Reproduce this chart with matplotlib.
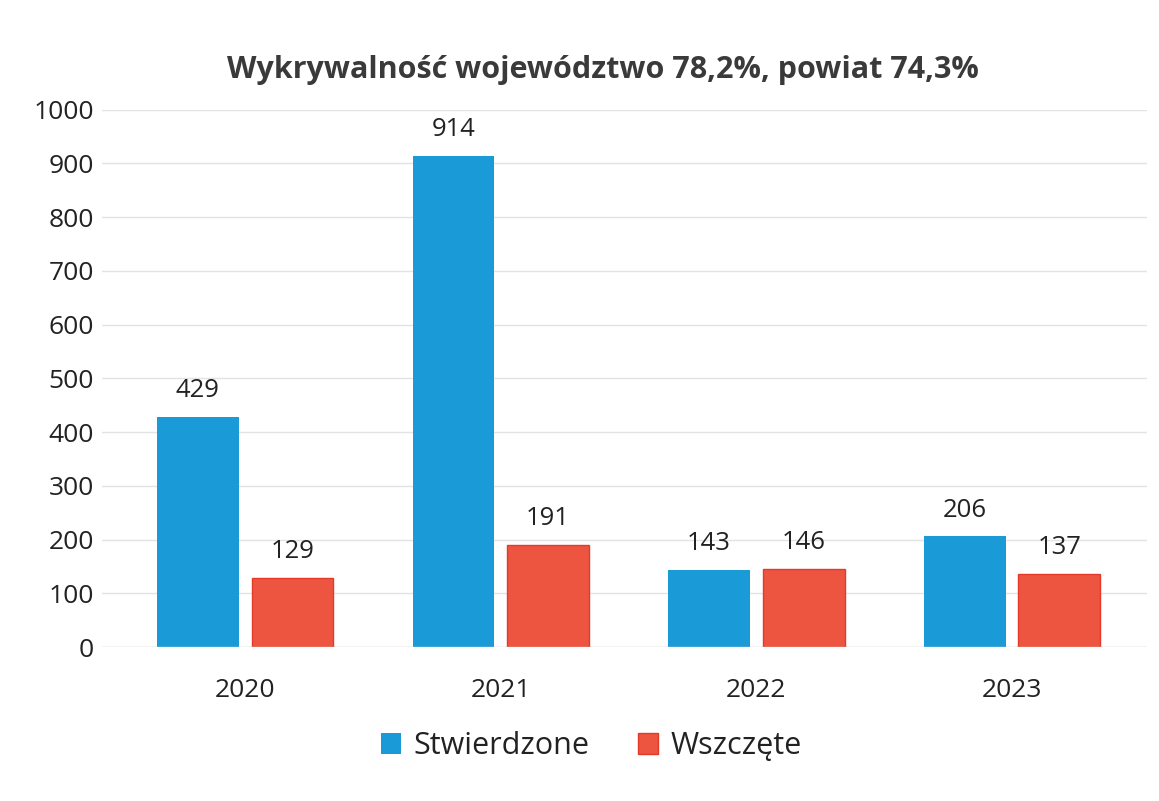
import numpy as np
import matplotlib.pyplot as plt

# data
years = ['2020', '2021', '2022', '2023']
stwierdzone = [429, 914, 143, 206]
wszczete = [129, 191, 146, 137]
yticks = [0, 100, 200, 300, 400, 500, 600, 700, 800, 900, 1000]

plt.rcParams['font.family'] = ['Open Sans', 'DejaVu Sans']

fig = plt.figure(figsize=(11.59, 8.01), dpi=100)
ax = fig.add_axes([0.088, 0.192, 0.902, 0.671])

x = np.arange(len(years))
w = 0.32
off = 0.185
b1 = ax.bar(x - off, stwierdzone, w, color='#1b9ad8', label='Stwierdzone')
b2 = ax.bar(x + off, wszczete, w, color='#ee5540', edgecolor='#e33a2a', linewidth=1, label='Wszczęte')

for bars, vals in ((b1, stwierdzone), (b2, wszczete)):
    for b, v in zip(bars, vals):
        ax.text(b.get_x() + b.get_width() / 2, v + 26, str(v), ha='center', va='bottom',
                fontsize=18.5, color='#222222')

ax.set_xlim(-0.56, 3.53)
ax.set_ylim(0, 1000)
ax.set_yticks(yticks)
ax.set_xticks(x)
ax.set_xticklabels(years)
ax.tick_params(axis='both', length=0, labelsize=19, labelcolor='#222222')
ax.tick_params(axis='x', pad=22)
ax.tick_params(axis='y', pad=6)
ax.grid(axis='y', color='#e3e3e3', linewidth=1)
ax.set_axisbelow(True)
for s in ax.spines.values():
    s.set_visible(False)
ax.axhline(0, color='#d9d9d9', linewidth=1)

fig.text(0.52, 0.913, 'Wykrywalność województwo 78,2%, powiat 74,3%', ha='center', va='center',
         fontsize=22, fontweight='bold', color='#3a3a3a')

ax.legend(loc='upper center', bbox_to_anchor=(0.468, -0.105), ncol=2, frameon=False,
          fontsize=22, handlelength=0.65, handleheight=0.65, columnspacing=1.6,
          handletextpad=0.4, labelcolor='#222222')

fig.savefig('out.png', dpi=100)
